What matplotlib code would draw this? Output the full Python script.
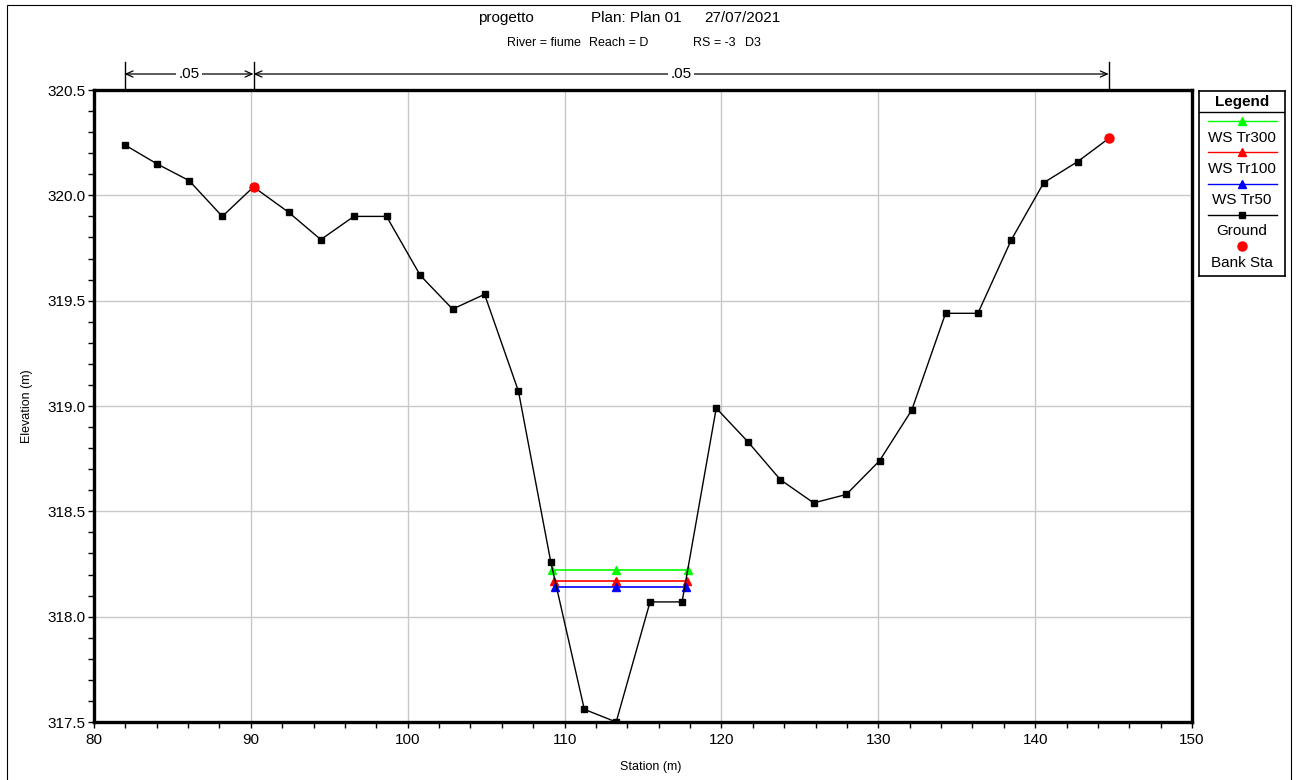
import matplotlib
matplotlib.use("Agg")  # Headless backend
import matplotlib.pyplot as plt
from matplotlib.lines import Line2D
from matplotlib.patches import Rectangle
from matplotlib.ticker import MultipleLocator, FormatStrFormatter

# ============================================================
# HEC-RAS style cross section – River fiume, Reach D, RS -3
# ============================================================

# Ground profile (station m, elevation m)
ground_sta = [81.95, 84.00, 86.06, 88.18, 90.17, 92.40, 94.46, 96.57, 98.65,
              100.80, 102.86, 104.90, 107.06, 109.12, 111.26, 113.29, 115.45,
              117.49, 119.67, 121.69, 123.76, 125.88, 127.96, 130.08, 132.13,
              134.29, 136.35, 138.49, 140.55, 142.71, 144.69]
ground_elev = [320.24, 320.15, 320.07, 319.90, 320.04, 319.92, 319.79, 319.90, 319.90,
               319.62, 319.46, 319.53, 319.07, 318.26, 317.56, 317.50, 318.07,
               318.07, 318.99, 318.83, 318.65, 318.54, 318.58, 318.74, 318.98,
               319.44, 319.44, 319.79, 320.06, 320.16, 320.27]

# Bank stations
bank_sta = [90.17, 144.69]
bank_elev = [320.04, 320.27]

# Water surfaces
ws_names = ["WS Tr300", "WS Tr100", "WS Tr50"]
ws_elev = [318.22, 318.17, 318.14]
ws_left = [109.20, 109.30, 109.40]
ws_mid = [113.30, 113.30, 113.30]
ws_right = [117.90, 117.82, 117.72]

# Manning n breaks
n_sta = [81.95, 90.17, 144.69]
n_val = [".05", ".05"]

# Title pieces
title_parts = ["progetto", "Plan: Plan 01", "27/07/2021"]
subtitle_parts = ["River = fiume", "Reach = D", "RS = -3", "D3"]

WS_COLORS = ["#00ff00", "#ff0000", "#0000ff"]

plt.rcParams.update({
    "font.family": ["Liberation Sans", "DejaVu Sans"],
    "font.size": 11,
})

W, H = 1298, 780
fig = plt.figure(figsize=(W / 100, H / 100), dpi=100, facecolor="white")

# outer frame
fig.patches.append(Rectangle((7 / W, -0.01), (1291 - 7) / W, (780 - 5) / H + 0.01,
                             transform=fig.transFigure, fill=False,
                             edgecolor="black", linewidth=0.8))

ax = fig.add_axes([94 / W, (H - 722) / H, (1192 - 94) / W, (722 - 90) / H])

for name, z, xl, xm, xr, c in zip(ws_names, ws_elev, ws_left, ws_mid, ws_right, WS_COLORS):
    ax.plot([xl, xm, xr], [z, z, z], color=c, linewidth=1.2, marker="^",
            markersize=6, zorder=3)
ax.plot(ground_sta, ground_elev, color="black", linewidth=1.0, marker="s",
        markersize=5, zorder=4)
ax.plot(bank_sta, bank_elev, linestyle="none", marker="o", color="#ff0000",
        markersize=6.5, zorder=5)

ax.set_xlim(80, 150)
ax.set_ylim(317.5, 320.5)
ax.xaxis.set_major_locator(MultipleLocator(10))
ax.xaxis.set_minor_locator(MultipleLocator(2))
ax.yaxis.set_major_locator(MultipleLocator(0.5))
ax.yaxis.set_minor_locator(MultipleLocator(0.1))
ax.yaxis.set_major_formatter(FormatStrFormatter("%.1f"))
ax.grid(True, which="major", color="#c8c8c8", linewidth=1.0)
ax.set_axisbelow(True)
for s in ax.spines.values():
    s.set_linewidth(2.4)
ax.tick_params(which="both", direction="out", length=4, width=1.0, labelsize=11)
ax.tick_params(axis="x", pad=4)
ax.tick_params(axis="y", pad=2)

fig.text(651 / W, 1 - 767 / H, "Station (m)", ha="center", va="center", fontsize=9)
fig.text(27 / W, 1 - 406 / H, "Elevation (m)", ha="center", va="center",
         fontsize=9, rotation=90)

for txt, xc in zip(title_parts, [506, 636, 742]):
    fig.text(xc / W, 1 - 18 / H, txt, ha="center", va="center", fontsize=11)
for txt, xc in zip(subtitle_parts, [544, 619, 714, 753]):
    fig.text(xc / W, 1 - 43 / H, txt, ha="center", va="center", fontsize=9)

# Manning n arrows above the plot
tr = ax.get_xaxis_transform()
y_arrow = 1 + 16 / 632
for x in n_sta:
    ax.plot([x, x], [1.0, 1 + 28 / 632], transform=tr, color="black",
            linewidth=1.0, clip_on=False)
for (x0, x1), lab in zip(zip(n_sta[:-1], n_sta[1:]), n_val):
    ax.annotate("", xy=(x0, y_arrow), xytext=(x1, y_arrow), xycoords=tr,
                textcoords=tr,
                arrowprops=dict(arrowstyle="<->,head_length=0.45,head_width=0.2",
                                color="black", linewidth=0.9, shrinkA=0, shrinkB=0))
    ax.text((x0 + x1) / 2, y_arrow, lab, transform=tr, ha="center", va="center",
            fontsize=11, bbox=dict(facecolor="white", edgecolor="none", pad=1.5),
            clip_on=False)

# Legend box (HEC-RAS style: symbol above label)
lx0, lx1, ly0, ly1 = 1199, 1285, 91, 276
lg = fig.add_axes([lx0 / W, (H - ly1) / H, (lx1 - lx0) / W, (ly1 - ly0) / H])
lg.set_xlim(0, lx1 - lx0)
lg.set_ylim(ly1 - ly0, 0)
lg.set_xticks([])
lg.set_yticks([])
for s in lg.spines.values():
    s.set_linewidth(1.2)
lg.plot([0, lx1 - lx0], [21, 21], color="black", linewidth=1.0)
lg.text((lx1 - lx0) / 2, 11, "Legend", ha="center", va="center",
        fontsize=11, fontweight="bold")
cx = (lx1 - lx0) / 2
entries = [(ws_names[i], WS_COLORS[i], "-", "^") for i in range(3)]
entries += [("Ground", "black", "-", "s"), ("Bank Sta", "#ff0000", "none", "o")]
for i, (lab, c, ls, mk) in enumerate(entries):
    ysym = 30 + i * 31.3
    ms = {"^": 6, "s": 5, "o": 6.5}[mk]
    lg.add_line(Line2D([9, 78], [ysym, ysym], color=c, linestyle=ls, linewidth=1.0))
    lg.plot([cx], [ysym], marker=mk, color=c, markersize=ms, linestyle="none")
    lg.text(cx, ysym + 16.5, lab, ha="center", va="center", fontsize=11)

fig.savefig("out.png", dpi=100, facecolor="white")
plt.close(fig)
